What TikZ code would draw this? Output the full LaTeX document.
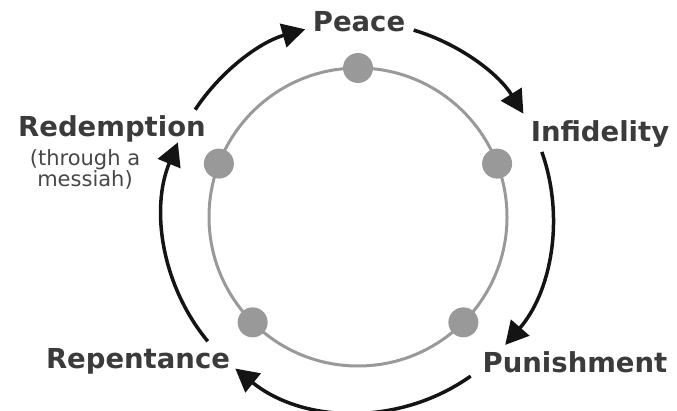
\documentclass[tikz,border=0pt]{standalone}
\usepackage{fontspec}
\setmainfont{DejaVu Sans}
\usetikzlibrary{arrows.meta,calc}

\begin{document}
\begin{tikzpicture}[
    x=1pt, y=1pt,
    >={Triangle[length=23pt, width=24pt]},
    stage/.style={
        font=\fontsize{27.5}{30}\selectfont\bfseries,
        text=black!77,
        inner sep=0pt,
        anchor=base
    },
    remark/.style={font=\fontsize{21}{21}\selectfont, text=black!72, inner sep=0pt, align=center, anchor=base},
    ring/.style={draw=black!40, line width=3pt},
    station/.style={circle, fill=black!40, minimum size=30pt, inner sep=0pt},
    flow/.style={->, line width=3.5pt, black!92}
]

% --- Geometry ---
\def\cx{358}
\def\cy{193}
\def\rIn{149}
\def\rOut{195}

\useasboundingbox (0,0) rectangle (677,410);
\coordinate (ctr) at (\cx,\cy);

% --- Inner ring with stations ---
\draw[ring] (ctr) circle[radius=\rIn];
\foreach \a/\n in {90/sPeace, 21/sInfid, -45/sPunish, -135/sRepent, 159/sRedeem}
    \node[station] (\n) at ($(ctr)+(\a:\rIn)$) {};

% --- Stage labels ---
\node[stage] (peace)  at (359,378) {Peace};
\node[stage] (infid)  at (600,268) {Infidelity};
\node[stage] (punish) at (575,38)  {Punishment};
\node[stage] (repent) at (138,42)  {Repentance};
\node[stage] (redeem) at (112,273) {Redemption};
\node[remark] (messiah) at (85,223) {(through a\\messiah)};

% --- Cycle arrows ---
\coordinate (a1) at ($(ctr)+(146.6:\rOut)$);
\coordinate (a2) at ($(ctr)+(73.4:\rOut)$);
\coordinate (a3) at ($(ctr)+(19.5:\rOut)$);
\coordinate (a4) at ($(ctr)+(-54.7:\rOut)$);
\coordinate (a5) at ($(ctr)+(-140.4:\rOut)$);

\draw[flow] (a1) arc[start angle=146.6, end angle=105.7, radius=\rOut];
\draw[flow] (a2) arc[start angle=73.4, end angle=32, radius=\rOut];
\draw[flow] (a3) arc[start angle=19.5, end angle=-41, radius=\rOut];
\draw[flow] (a4) arc[start angle=-54.7, end angle=-129, radius=\rOut];
\draw[flow] (a5) arc[start angle=219.6, end angle=157.5, radius=\rOut];

\end{tikzpicture}
\end{document}
